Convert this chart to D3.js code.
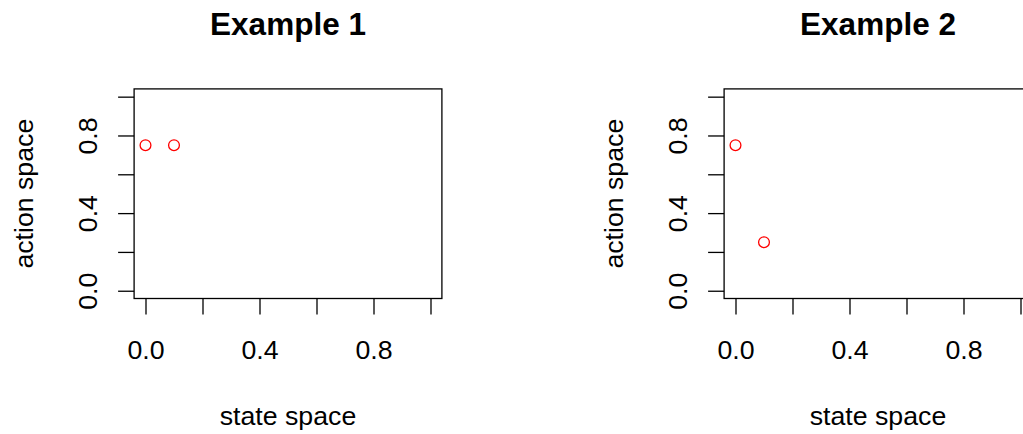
<!DOCTYPE html>
<html>
<head>
<meta charset="utf-8">
<script src="https://cdn.jsdelivr.net/npm/d3@7"></script>
<style>
  body { margin: 0; background: #fff; }
  text { font-family: "Liberation Sans", Arial, sans-serif; fill: #000; }
</style>
</head>
<body>
<script>
let titles = ["Example 1", "Example 2"];
let stateValues1 = [0, 0.1];
let actionValues1 = [0.75, 0.75];
let stateValues2 = [0, 0.1];
let actionValues2 = [0.75, 0.25];
let tickValues = [0, 0.2, 0.4, 0.6, 0.8, 1];
let tickLabels = ["0.0", "", "0.4", "", "0.8", ""];

let width = 1023,
    height = 434,
    panelShift = 590;

let svg = d3.select("body").append("svg")
    .attr("width", width).attr("height", height);

svg.append("rect").attr("width", width).attr("height", height).attr("fill", "#fff");

let xScale = d3.scaleLinear().domain([-0.04, 1.04]).range([134.1, 441.9]);
let yScale = d3.scaleLinear().domain([-0.04, 1.04]).range([298.5, 88.9]);

let fmt = (d) => tickLabels[tickValues.indexOf(d)];

function drawPanel(i, xs, ys) {
    let g = svg.append("g").attr("transform", "translate(" + i * panelShift + ",0)");
    let pts = xs.map((x, k) => ({ x: x, y: ys[k] }));

    // x axis
    let xAxis = d3.axisBottom(xScale).tickValues(tickValues).tickFormat(fmt)
        .tickSize(16).tickSizeOuter(0);
    let gx = g.append("g").attr("transform", "translate(0," + yScale(-0.04) + ")").call(xAxis);
    gx.select(".domain").remove();
    gx.selectAll("line").attr("stroke", "#000").attr("stroke-width", 1.3);
    gx.selectAll("text").attr("y", 60.5).attr("dy", 0)
        .style("font-size", "26.7px");

    // y axis
    let yAxis = d3.axisLeft(yScale).tickValues(tickValues).tickFormat(fmt)
        .tickSize(16).tickSizeOuter(0);
    let gy = g.append("g").attr("transform", "translate(" + xScale(-0.04) + ",0)").call(yAxis);
    gy.select(".domain").remove();
    gy.selectAll("line").attr("stroke", "#000").attr("stroke-width", 1.3);
    gy.selectAll("text").attr("x", 0).attr("dy", 0)
        .attr("text-anchor", "middle")
        .attr("transform", "translate(-37.4,0) rotate(-90)")
        .style("font-size", "26.7px");

    // box
    g.append("rect")
        .attr("x", xScale(-0.04)).attr("y", yScale(1.04))
        .attr("width", xScale(1.04) - xScale(-0.04))
        .attr("height", yScale(-0.04) - yScale(1.04))
        .attr("fill", "none").attr("stroke", "#000").attr("stroke-width", 1.3);

    g.selectAll("circle").data(pts).enter().append("circle")
        .attr("cx", (d) => xScale(d.x))
        .attr("cy", (d) => yScale(d.y))
        .attr("r", 5.4)
        .attr("fill", "none").attr("stroke", "#ff0000").attr("stroke-width", 1.3);

    let cx = (xScale(-0.04) + xScale(1.04)) / 2;
    g.append("text").attr("x", cx).attr("y", 35)
        .attr("text-anchor", "middle")
        .style("font-size", "31.5px").style("font-weight", "bold")
        .text(titles[i]);

    g.append("text").attr("x", cx).attr("y", 425)
        .attr("text-anchor", "middle").style("font-size", "26.7px")
        .text("state space");

    let cy = (yScale(-0.04) + yScale(1.04)) / 2;
    g.append("text")
        .attr("transform", "translate(33," + cy + ") rotate(-90)")
        .attr("text-anchor", "middle").style("font-size", "26.7px")
        .text("action space");
}

drawPanel(0, stateValues1, actionValues1);
drawPanel(1, stateValues2, actionValues2);
</script>
</body>
</html>
